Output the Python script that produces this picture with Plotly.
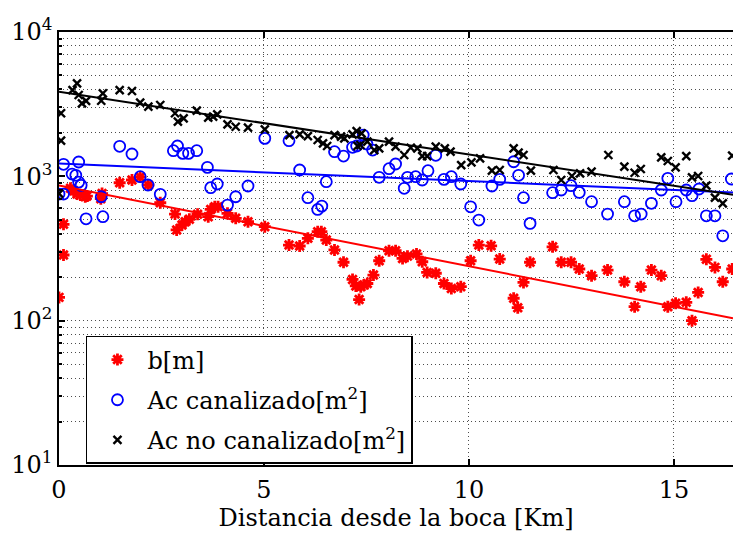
import plotly.graph_objects as go

# Distance from the river mouth [Km] and measured values for each series
dist_b = [0.0, 0.11, 0.11, 0.28, 0.36, 0.44, 0.52, 0.64, 0.68, 1.02, 1.05, 1.48, 1.78, 1.98,
          2.18, 2.47, 2.83, 2.87, 3.00, 3.08, 3.18, 3.38, 3.64, 3.70, 3.80, 3.88, 4.11, 4.31,
          4.61, 5.02, 5.61, 5.87, 6.07, 6.31, 6.40, 6.52, 6.72, 6.94, 7.16, 7.24, 7.32, 7.36,
          7.44, 7.52, 7.67, 7.81, 8.05, 8.21, 8.38, 8.50, 8.72, 8.86, 8.98, 9.19, 9.39, 9.57,
          9.80, 10.04, 10.24, 10.54, 10.75, 11.09, 11.19, 11.33, 11.49, 12.04, 12.25, 12.49,
          12.69, 12.99, 13.38, 13.79, 14.04, 14.19, 14.45, 14.69, 14.85, 15.04, 15.30, 15.44,
          15.59, 15.79, 16.00, 16.19, 16.42]
b_m = [145, 285, 465, 826, 794, 754, 741, 722, 730, 700, 760, 903, 943, 990,
       871, 656, 548, 425, 460, 485, 504, 546, 525, 590, 615, 615, 554, 512,
       485, 448, 334, 329, 372, 413, 413, 362, 309, 254, 193, 174, 140, 172,
       177, 181, 207, 260, 305, 305, 270, 280, 290, 256, 216, 213, 181, 167,
       172, 260, 334, 330, 267, 143, 123, 184, 254, 325, 254, 254,
       228, 205, 224, 186, 125, 172, 224, 205, 125, 132, 134, 100,
       157, 266, 234, 186, 228]

dist_ac_can = [0.0, 0.11, 0.11, 0.48, 0.32, 0.41, 0.48, 0.54, 0.66, 1.03, 1.07, 1.48, 1.78,
               1.98, 2.17, 2.47, 2.79, 2.89, 3.02, 3.16, 3.36, 3.62, 3.70, 3.86, 4.11, 4.31,
               4.61, 5.02, 5.61, 5.87, 6.07, 6.31, 6.41, 6.52, 6.72, 6.94, 7.16, 7.26, 7.42,
               7.51, 7.65, 7.81, 8.05, 8.21, 8.42, 8.50, 8.70, 8.86, 9.00, 9.19, 9.39, 9.57,
               9.80, 10.04, 10.24, 10.56, 10.75, 11.09, 11.21, 11.33, 11.49, 12.04, 12.25,
               12.49, 12.69, 12.99, 13.38, 13.79, 14.04, 14.20, 14.45, 14.69, 14.85, 15.05,
               15.30, 15.44, 15.61, 15.79, 16.00, 16.19, 16.40]
ac_can = [754, 754, 1211, 1257, 1037, 1016, 912, 866, 508, 722, 525, 1614, 1428,
          994, 871, 750, 1506, 1622, 1443, 1443, 1506, 1154, 834, 885, 632, 722,
          857, 1833, 1765, 1106, 711, 590, 622, 918, 1481, 1382, 1589, 1622, 1930,
          1675, 1521, 984, 1130, 1217, 826, 984, 994, 943, 1094, 1399, 953, 994,
          885, 615, 498, 857, 953, 1262, 1016, 711, 472, 770, 804,
          861, 774, 667, 548, 667, 533, 548, 650, 804, 968, 667,
          804, 734, 817, 533, 533, 387, 958]

dist_ac_nocan = [0.0, 0.05, 0.05, 0.33, 0.44, 0.48, 0.56, 0.66, 1.03, 1.07, 1.48, 1.78, 1.98,
                 2.18, 2.47, 2.83, 2.90, 3.04, 3.36, 3.64, 3.76, 3.86, 4.11, 4.31, 4.61, 5.02,
                 5.62, 5.87, 6.07, 6.31, 6.44, 6.54, 6.72, 6.88, 6.96, 7.16, 7.26, 7.38, 7.28,
                 7.35, 7.52, 7.69, 7.81, 8.05, 8.21, 8.42, 8.58, 8.74, 8.86, 8.98, 9.19, 9.41,
                 9.55, 9.81, 10.06, 10.27, 10.56, 10.75, 11.09, 11.21, 11.33, 11.51, 12.06,
                 12.25, 12.51, 12.71, 12.99, 13.40, 13.79, 14.04, 14.19, 14.69, 14.85, 15.04,
                 15.30, 15.44, 15.59, 15.79, 16.00, 16.19, 16.42]
ac_nocan = [760, 2735, 1765, 3960, 4400, 3660, 3200, 3330, 3340, 3760, 3960, 3900, 3240,
            3040, 3120, 2735, 2390, 2520, 2850, 2548, 2590, 2690, 2290, 2206, 2172, 2117,
            1932, 1955, 1901, 1785, 1693, 1622, 1932, 1882, 1833, 1955, 2060, 1986, 1622,
            1649, 1738, 1521, 1563, 1738, 1604, 1405, 1578, 1563, 1382, 1382, 1604, 1563,
            1481, 1197, 1250, 1333, 1094, 1106, 1563, 1459, 1405, 1094, 1106,
            943, 1005, 1049, 1077, 1405, 1166, 1059, 1124, 1355, 1277, 1154,
            1382, 984, 1005, 861, 711, 650, 1390]

# Exponential trend lines (straight on the log axis), given by their end points
fit_x = [0.0, 16.44]
fit_b = [863, 104]
fit_ac_can = [1225, 774]
fit_ac_nocan = [3850, 745]

FONT = "DejaVu Serif"
FS = 24
GRID = "#4d4d4d"

fig = go.Figure()

fig.add_trace(go.Scatter(
    x=dist_b, y=b_m, mode="markers", name="b[m]", legendgroup="b",
    marker=dict(symbol="asterisk-open", size=10, color="#ff0000",
                line=dict(color="#ff0000", width=2.8))))
fig.add_trace(go.Scatter(
    x=dist_ac_can, y=ac_can, mode="markers", name="Ac canalizado[m<sup>2</sup>]",
    legendgroup="can",
    marker=dict(symbol="circle-open", size=11, color="#0000ff",
                line=dict(color="#0000ff", width=1.8))))
fig.add_trace(go.Scatter(
    x=dist_ac_nocan, y=ac_nocan, mode="markers", name="Ac no canalizado[m<sup>2</sup>]",
    legendgroup="nocan",
    marker=dict(symbol="x-thin-open", size=8, color="#000000",
                line=dict(color="#000000", width=2.4))))

for yv, col in [(fit_b, "#ff0000"), (fit_ac_can, "#0000ff"), (fit_ac_nocan, "#000000")]:
    fig.add_trace(go.Scatter(x=fit_x, y=yv, mode="lines", showlegend=False,
                             line=dict(color=col, width=2)))

minor_vals = [m * 10 ** e for e in range(1, 4) for m in range(2, 10)]

fig.update_layout(
    width=733, height=535,
    margin=dict(l=59, r=0, t=32, b=70),
    paper_bgcolor="white", plot_bgcolor="white",
    font=dict(family=FONT, size=FS, color="black"),
    xaxis=dict(
        range=[0, 16.44], tickvals=[0, 5, 10, 15],
        ticks="inside", ticklen=6, tickwidth=1.5, tickcolor="black",
        showline=True, linecolor="black", linewidth=1.5, mirror="ticks",
        showgrid=True, gridcolor=GRID, gridwidth=1, griddash="1px,3px",
        zeroline=False, tickfont=dict(family=FONT, size=FS),
        ticklabelstandoff=2,
        title=dict(text="Distancia desde la boca [Km]", standoff=4,
                   font=dict(family=FONT, size=FS)),
    ),
    yaxis=dict(
        type="log", range=[1, 4],
        tickvals=[10, 100, 1000, 10000],
        ticktext=["10<sup>1</sup>", "10<sup>2</sup>", "10<sup>3</sup>", "10<sup>4</sup>"],
        ticks="inside", ticklen=6, tickwidth=1.5, tickcolor="black",
        showline=True, linecolor="black", linewidth=1.5,
        showgrid=True, gridcolor=GRID, gridwidth=1, griddash="1px,3px",
        zeroline=False, tickfont=dict(family=FONT, size=FS),
        minor=dict(tickvals=minor_vals, ticks="inside", ticklen=3, tickcolor="black",
                   showgrid=True, gridcolor=GRID, gridwidth=1, griddash="1px,3px"),
    ),
    legend=dict(
        x=0.04, y=0.298, xanchor="left", yanchor="top",
        bgcolor="white", bordercolor="black", borderwidth=1.5,
        font=dict(family=FONT, size=FS), itemwidth=50, tracegroupgap=6,
    ),
    showlegend=True,
)

fig.write_html("out.html")
